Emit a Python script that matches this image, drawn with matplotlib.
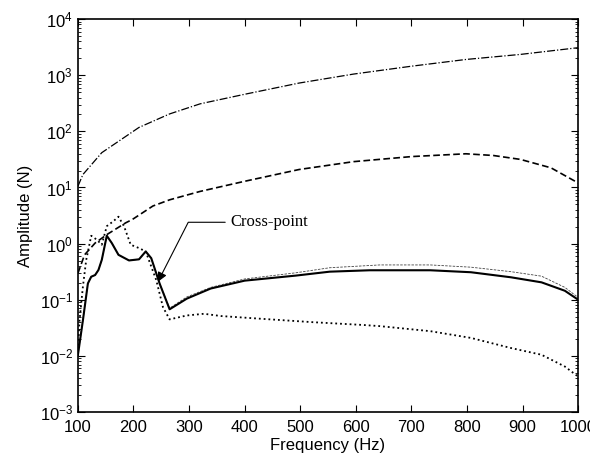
import matplotlib
matplotlib.use("Agg")
import matplotlib.pyplot as plt
import numpy as np

plt.rcParams['font.family'] = ['Liberation Sans', 'DejaVu Sans']
plt.rcParams['mathtext.fontset'] = 'custom'
plt.rcParams['mathtext.rm'] = 'Liberation Sans'
plt.rcParams['mathtext.it'] = 'Liberation Sans'
plt.rcParams['mathtext.bf'] = 'Liberation Sans'

# dash-dot curve (top)
f_top = [100, 109, 143, 210, 265, 320, 400, 498, 596, 700, 798, 896, 1000]
lg_top = [1.02, 1.23, 1.62, 2.07, 2.31, 2.49, 2.66, 2.86, 3.02, 3.16, 3.28, 3.37, 3.49]

# thick dashed curve
f_dash = [100, 112, 131, 152, 186, 198, 235, 265, 320, 400, 498, 596, 700, 798, 847, 896, 951, 1000]
lg_dash = [-0.53, -0.20, 0.01, 0.16, 0.37, 0.43, 0.67, 0.78, 0.93, 1.11, 1.32, 1.46, 1.55, 1.60, 1.57, 1.50, 1.35, 1.08]

# solid curve
f_solid = [100, 109, 118, 124, 131, 137, 143, 152, 161, 173, 192, 210, 222, 232, 247, 265,
           296, 339, 400, 492, 553, 625, 734, 807, 879, 934, 976, 1000]
lg_solid = [-1.99, -1.37, -0.71, -0.59, -0.56, -0.47, -0.29, 0.14, 0.01, -0.20, -0.30, -0.28, -0.14, -0.26, -0.71, -1.17,
            -0.98, -0.80, -0.66, -0.57, -0.50, -0.475, -0.475, -0.51, -0.60, -0.69, -0.84, -1.0]

# thin dashed curve
f_thin = [100, 109, 118, 124, 131, 137, 143, 152, 161, 173, 192, 210, 222, 232, 247, 265,
          296, 339, 400, 492, 553, 643, 734, 807, 879, 934, 976, 1000]
lg_thin = [-1.99, -1.37, -0.71, -0.59, -0.56, -0.47, -0.29, 0.14, 0.01, -0.20, -0.30, -0.28, -0.14, -0.26, -0.71, -1.15,
           -0.95, -0.78, -0.63, -0.52, -0.43, -0.38, -0.38, -0.42, -0.50, -0.58, -0.78, -0.96]

# dotted curve
f_dot = [100, 103, 109, 115, 124, 134, 143, 152, 164, 173, 183, 195, 210, 222, 241, 253, 265,
         296, 327, 357, 431, 523, 614, 643, 734, 807, 879, 934, 976, 1000]
lg_dot = [-1.90, -1.37, -0.77, -0.29, 0.14, 0.07, -0.02, 0.31, 0.40, 0.48, 0.31, -0.02, -0.08, -0.14, -0.65, -1.13, -1.35,
          -1.28, -1.25, -1.29, -1.34, -1.40, -1.45, -1.47, -1.56, -1.68, -1.86, -1.98, -2.19, -2.37]

xticks = [100, 200, 300, 400, 500, 600, 700, 800, 900, 1000]

fig = plt.figure(figsize=(5.9, 4.58), dpi=100)
ax = fig.add_axes([0.132, 0.1004, 0.848, 0.858])

ax.semilogy(f_top, 10 ** np.array(lg_top), color='k', ls='-.', lw=0.9)
ax.semilogy(f_dash, 10 ** np.array(lg_dash), color='k', ls=(0, (4, 2)), lw=1.2)
ax.semilogy(f_thin, 10 ** np.array(lg_thin), color='#444444', ls=(0, (3, 1.5)), lw=0.6)
ax.semilogy(f_solid, 10 ** np.array(lg_solid), color='k', ls='-', lw=1.5)
ax.semilogy(f_dot, 10 ** np.array(lg_dot), color='k', ls=':', lw=1.3)

ax.set_xlim(100, 1000)
ax.set_ylim(1e-3, 1e4)
ax.set_xticks(xticks)
ax.set_yticks([10.0 ** k for k in range(-3, 5)])
ax.tick_params(which='both', direction='in', top=True, right=True, labelsize=12)
ax.tick_params(which='major', length=5, width=0.8)
ax.tick_params(which='minor', length=2.5, width=0.6)
ax.tick_params(axis='x', pad=6)
for s in ax.spines.values():
    s.set_linewidth(1.2)

ax.set_xlabel('Frequency (Hz)', fontsize=12, labelpad=2)
ax.set_ylabel('Amplitude (N)', fontsize=12, labelpad=5)

ax.annotate('Cross-point', xy=(244, 10 ** -0.68), xytext=(375, 10 ** 0.38),
            fontsize=12, family='Liberation Serif', va='center', ha='left',
            arrowprops=dict(arrowstyle='-|>', color='k', lw=0.8,
                            connectionstyle='angle,angleA=0,angleB=63,rad=0',
                            shrinkA=2, shrinkB=0, mutation_scale=14))

fig.savefig('out.png', dpi=100)
